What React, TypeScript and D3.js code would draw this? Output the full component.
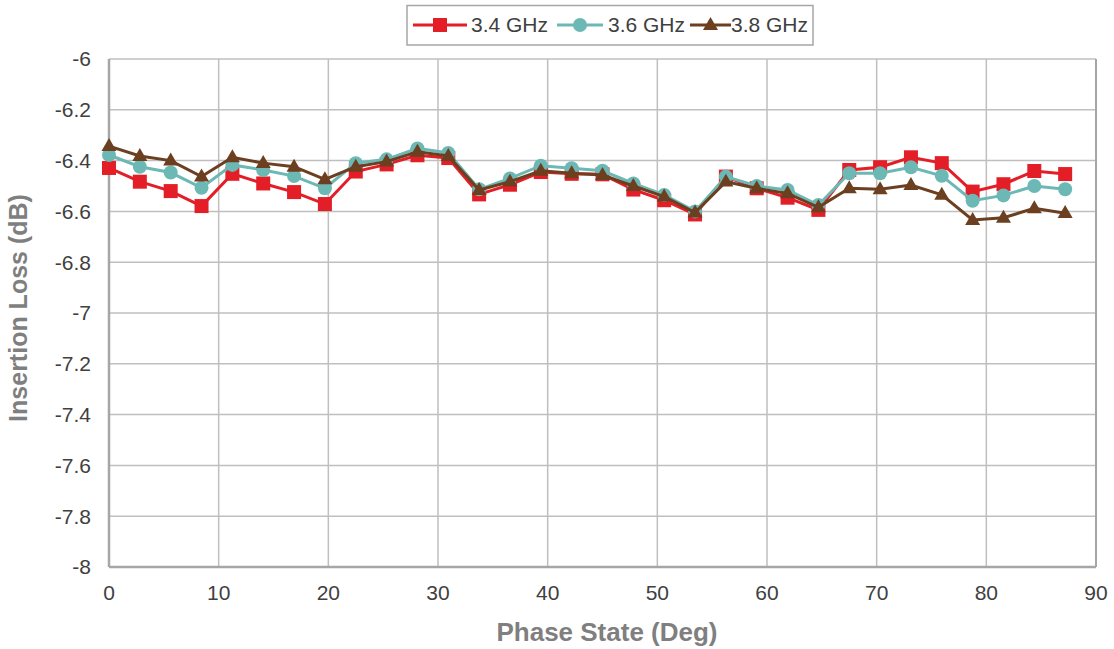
import React from "react";
import * as d3 from "d3";

const phase: number[] = Array.from({ length: 32 }, (_, i) => i * 2.8125);
const seriesNames = ["3.4 GHz", "3.6 GHz", "3.8 GHz"];
const il34 = [-6.429, -6.483, -6.52, -6.579, -6.452, -6.49, -6.524, -6.571, -6.443, -6.415, -6.379, -6.39, -6.533, -6.495, -6.445, -6.452, -6.454, -6.514, -6.556, -6.612, -6.463, -6.509, -6.546, -6.594, -6.437, -6.426, -6.387, -6.41, -6.522, -6.493, -6.441, -6.453];
const il36 = [-6.378, -6.424, -6.447, -6.507, -6.417, -6.437, -6.461, -6.509, -6.41, -6.395, -6.352, -6.37, -6.513, -6.47, -6.42, -6.43, -6.44, -6.49, -6.535, -6.6, -6.463, -6.5, -6.516, -6.575, -6.45, -6.45, -6.426, -6.46, -6.558, -6.537, -6.5, -6.513];
const il38 = [-6.343, -6.382, -6.4, -6.463, -6.387, -6.41, -6.424, -6.474, -6.424, -6.404, -6.365, -6.382, -6.516, -6.483, -6.44, -6.45, -6.457, -6.5, -6.542, -6.605, -6.483, -6.509, -6.529, -6.584, -6.509, -6.513, -6.496, -6.535, -6.634, -6.625, -6.588, -6.607];
const xTicks = [0, 10, 20, 30, 40, 50, 60, 70, 80, 90];
const yTicks = [-6, -6.2, -6.4, -6.6, -6.8, -7, -7.2, -7.4, -7.6, -7.8, -8];

const colors = ["#e31e26", "#6cb8b5", "#6b3f1f"];
const shapes = ["square", "circle", "triangle"];

const W = 1114, H = 649;
const L = 109, R = 1096, T = 59, B = 567;

function Marker({ shape, x, y, color }: { shape: string; x: number; y: number; color: string }) {
  if (shape === "square") return <rect x={x - 7} y={y - 7} width={14} height={14} fill={color} />;
  if (shape === "circle") return <circle cx={x} cy={y} r={7} fill={color} />;
  const s = 15;
  const h = s * 0.866;
  return <path d={`M${x},${y - h * 0.62}L${x + s / 2},${y + h * 0.38}L${x - s / 2},${y + h * 0.38}Z`} fill={color} />;
}

export default function App() {
  const x = d3.scaleLinear().domain([0, 90]).range([L, R]);
  const y = d3.scaleLinear().domain([-8, -6]).range([B, T]);
  const data = [il34, il36, il38];
  const line = d3.line<number>().x((_, i) => x(phase[i])).y((d) => y(d));
  const font = "'Liberation Sans', Arial, sans-serif";

  const legendItems = [
    { lx: 413, tx: 471, w: 54 },
    { lx: 557, tx: 608, w: 46 },
    { lx: 690, tx: 731, w: 41 },
  ];

  return (
    <svg width={W} height={H} style={{ position: "absolute", left: 0, top: 0, background: "#fff" }} fontFamily={font}>
      {yTicks.map((t) => (
        <line key={"gy" + t} x1={L} x2={R} y1={y(t)} y2={y(t)} stroke="#bfbfbf" strokeWidth={1.5} />
      ))}
      {xTicks.map((t) => (
        <line key={"gx" + t} x1={x(t)} x2={x(t)} y1={T} y2={B} stroke={t === 90 ? "#a6a6a6" : "#bfbfbf"} strokeWidth={t === 90 ? 2 : 1.5} />
      ))}
      <line x1={L} x2={L} y1={T} y2={B} stroke="#a6a6a6" strokeWidth={2.5} />
      <line x1={L} x2={R} y1={B} y2={B} stroke="#a6a6a6" strokeWidth={2.5} />
      {yTicks.map((t) => (
        <text key={"ty" + t} x={91} y={y(t)} dy="0.35em" textAnchor="end" fontSize={21} fill="#404040">
          {String(t)}
        </text>
      ))}
      {xTicks.map((t) => (
        <text key={"tx" + t} x={x(t)} y={600} textAnchor="middle" fontSize={21} fill="#404040">
          {t}
        </text>
      ))}
      <text x={607} y={641} textAnchor="middle" fontSize={26} fontWeight="bold" fill="#7f7f7f">
        Phase State (Deg)
      </text>
      <text transform={`translate(27,308) rotate(-90)`} textAnchor="middle" fontSize={25} fontWeight="bold" fill="#7f7f7f">
        Insertion Loss (dB)
      </text>
      {data.map((d, si) => (
        <g key={"s" + si}>
          <path d={line(d) || ""} fill="none" stroke={colors[si]} strokeWidth={3} />
          {d.map((v, i) => (
            <Marker key={i} shape={shapes[si]} x={x(phase[i])} y={y(v)} color={colors[si]} />
          ))}
        </g>
      ))}
      <rect x={407} y={5.5} width={406} height={39.5} fill="#fff" stroke="#a6a6a6" strokeWidth={1.5} />
      {legendItems.map((it, i) => (
        <g key={"l" + i}>
          <line x1={it.lx} x2={it.lx + it.w} y1={25} y2={25} stroke={colors[i]} strokeWidth={3} />
          <Marker shape={shapes[i]} x={it.lx + it.w / 2} y={25} color={colors[i]} />
          <text x={it.tx} y={25} dy="0.35em" fontSize={21} fill="#404040">
            {seriesNames[i]}
          </text>
        </g>
      ))}
    </svg>
  );
}
